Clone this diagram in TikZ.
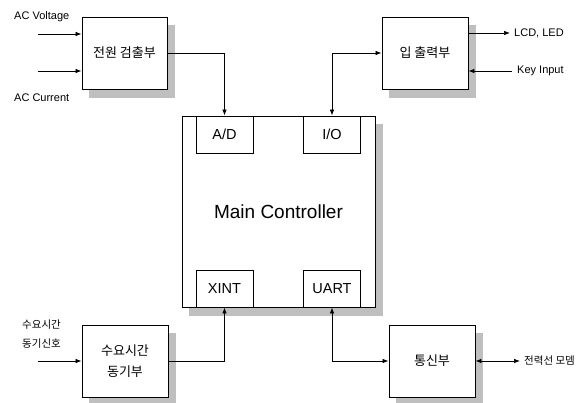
\documentclass[tikz,border=0pt]{standalone}
\usepackage{fontspec}
\setmainfont{Liberation Sans}
\newfontfamily\kr{Noto Sans CJK KR}
\usetikzlibrary{arrows.meta,calc}
\definecolor{shgray}{rgb}{0.75,0.75,0.75}
\begin{document}
\begin{tikzpicture}[x=1pt,y=-1pt,
  blk/.style={draw,line width=0.9pt,fill=white,inner sep=0pt},
  sub/.style={draw,line width=0.9pt,fill=white,inner sep=0pt,minimum width=57pt,minimum height=37pt,font=\fontsize{14.5}{16}\selectfont},
  shd/.style={fill=shgray,draw=shgray,inner sep=0pt,outer sep=0pt},
  arr/.style={line width=0.7pt,-{Latex[length=6pt,width=4.5pt]}},
  barr/.style={line width=0.7pt,{Latex[length=6pt,width=4.5pt]}-{Latex[length=6pt,width=4.5pt]}},
  lbl/.style={inner sep=0pt,font=\fontsize{11}{12}\selectfont},
  klbl/.style={inner sep=0pt,font=\kr\fontsize{10.5}{19}\selectfont,align=left},
  ktxt/.style={font=\kr\fontsize{13}{21}\selectfont,align=center}]
\useasboundingbox (0,0) rectangle (582,403);
% shadows
\node[shd,minimum width=85pt,minimum height=72pt] (s1) at (131.5,61) {};
\node[shd,minimum width=86pt,minimum height=72pt] (s2) at (432,61) {};
\node[shd,minimum width=193pt,minimum height=191pt] (s3) at (285.5,219.5) {};
\node[shd,minimum width=86pt,minimum height=72pt] (s4) at (132,369) {};
\node[shd,minimum width=86pt,minimum height=72pt] (s5) at (439,369) {};
% boxes
\node[blk,minimum width=85pt,minimum height=72pt,ktxt] (pw) at (124.5,53) {전원 검출부};
\node[blk,minimum width=86pt,minimum height=72pt,ktxt] (io) at (425,53) {입 출력부};
\node[blk,minimum width=193pt,minimum height=191pt,font=\fontsize{19}{20}\selectfont] (mc) at (278.5,211.5) {Main Controller};
\node[sub] (ad) at (224.5,134.5) {A/D};
\node[sub] (ios) at (332,134.5) {I/O};
\node[sub] (xint) at (224.5,288.5) {XINT};
\node[sub] (uart) at (332,288.5) {UART};
\node[blk,minimum width=86pt,minimum height=72pt,ktxt] (sy) at (125,361) {수요시간\\동기부};
\node[blk,minimum width=86pt,minimum height=72pt,ktxt] (cm) at (432,361) {통신부};
% labels
\node[lbl,anchor=west] (acvl) at (14,17) {AC Voltage};
\node[lbl,anchor=west] (acil) at (14,98) {AC Current};
\node[lbl,anchor=west] (lcdl) at (514,33) {LCD, LED};
\node[lbl,anchor=west] (keyl) at (517,71) {Key Input};
\node[klbl,anchor=west] (syl) at (22,334) {수요시간\\동기신호};
\node[klbl,anchor=west] (pll) at (524,361) {전력선 모뎀};
% free ends
\coordinate (acv) at (38,34);
\coordinate (aci) at (38,71);
\coordinate (lcd) at (510,33);
\coordinate (key) at (512,71);
\coordinate (syi) at (38,361);
\coordinate (plc) at (520,361);
% connectors
\draw[arr] (acv) -- (acv -| pw.west);
\draw[arr] (aci) -- (aci -| pw.west);
\draw[arr] (pw.east) -| (ad.north);
\draw[barr] (io.west) -| (ios.north);
\draw[arr] (io.east |- lcd) -- (lcd);
\draw[arr] (key) -- (key -| io.east);
\draw[arr] (syi) -- (sy.west);
\draw[arr] (sy.east) -| (xint.south);
\draw[barr] (uart.south) |- (cm.west);
\draw[barr] (cm.east) -- (plc);
\end{tikzpicture}
\end{document}
